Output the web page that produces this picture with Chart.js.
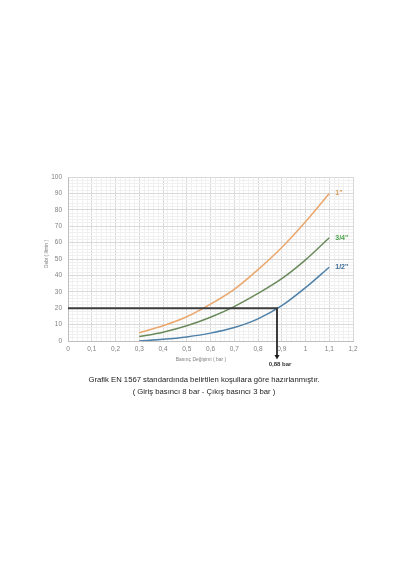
<!DOCTYPE html>
<html><head><meta charset="utf-8">
<script src="https://cdn.jsdelivr.net/npm/chart.js@4"></script>
<style>html,body{margin:0;padding:0;background:#fff}#wrap{width:400px;height:570px;position:relative}</style>
</head><body><div id="wrap"><canvas id="c" width="400" height="570"></canvas></div>
<script>
const pressure = [0.3, 0.4, 0.5, 0.6, 0.7, 0.8, 0.9, 1.0, 1.1];
const flow1 = [5, 9.3, 14.8, 22.5, 31.5, 43.5, 57, 72.7, 90];
const flow34 = [2.7, 5.4, 9.3, 14.5, 21, 29, 38, 49.5, 63];
const flow12 = [0, 1, 2.5, 4.8, 8.2, 13.5, 21.5, 32.5, 45];
const seriesNames = ['1"', '3/4"', '1/2"'];
const refPressure = 0.88;
const refFlow = 20;
const refLabel = '0,88 bar';
const xTitle = 'Basınç Değişimi ( bar )';
const yTitle = 'Debi ( l/min )';
const caption1 = 'Grafik EN 1567 standardında belirtilen koşullara göre hazırlanmıştır.';
const caption2 = '( Giriş basıncı 8 bar - Çıkış basıncı 3 bar )';

const lineColors = ['#EBA66C', '#6A8A5C', '#4F80A8'];
const labelColors = ['#E39C58', '#4EA34E', '#3E6C94'];
const FONT = '"Liberation Sans", Arial, sans-serif';

const series = [flow1, flow34, flow12];
const datasets = series.map((vals, i) => ({
  label: seriesNames[i],
  data: pressure.map((p, j) => ({x: p, y: vals[j]})),
  borderColor: lineColors[i],
  borderWidth: 1.5,
  pointRadius: 0,
  cubicInterpolationMode: 'monotone',
  fill: false
}));

const annot = {
  id: 'annot',
  afterDatasetsDraw(chart) {
    const {ctx, scales: {x, y}, chartArea} = chart;
    ctx.save();
    const px = x.getPixelForValue(refPressure), py = y.getPixelForValue(refFlow);
    ctx.strokeStyle = '#3c3c3c';
    ctx.lineWidth = 2;
    ctx.beginPath();
    ctx.moveTo(x.getPixelForValue(0), py);
    ctx.lineTo(px, py);
    ctx.lineTo(px, chartArea.bottom + 14);
    ctx.stroke();
    ctx.fillStyle = '#1a1a1a';
    ctx.beginPath();
    ctx.moveTo(px - 2.5, chartArea.bottom + 14);
    ctx.lineTo(px + 2.5, chartArea.bottom + 14);
    ctx.lineTo(px, chartArea.bottom + 18.5);
    ctx.closePath();
    ctx.fill();
    ctx.font = 'bold 6px ' + FONT;
    ctx.fillStyle = '#333';
    ctx.textAlign = 'center';
    ctx.textBaseline = 'middle';
    ctx.fillText(refLabel, px + 3, chartArea.bottom + 23.5);
    ctx.font = 'bold 7px ' + FONT;
    ctx.textAlign = 'left';
    chart.data.datasets.forEach((ds, i) => {
      const meta = chart.getDatasetMeta(i);
      const last = meta.data[meta.data.length - 1];
      ctx.fillStyle = labelColors[i];
      ctx.fillText(ds.label, last.x + 6, last.y);
    });
    ctx.fillStyle = '#7f7f7f';
    ctx.font = '5px ' + FONT;
    ctx.textAlign = 'center';
    ctx.fillText(xTitle, 201, chartArea.bottom + 18.5);
    ctx.save();
    ctx.translate(47, 254);
    ctx.rotate(-Math.PI / 2);
    ctx.fillText(yTitle, 0, 0);
    ctx.restore();
    ctx.fillStyle = '#222';
    ctx.font = '7.7px ' + FONT;
    ctx.fillText(caption1, 204, 379.5);
    ctx.fillText(caption2, 204, 391.5);
    ctx.restore();
  }
};

const isMajor = (v, step) => Math.abs(v / step - Math.round(v / step)) < 1e-6;

new Chart(document.getElementById('c'), {
  type: 'line',
  data: {datasets},
  options: {
    responsive: false,
    animation: false,
    events: [],
    layout: {padding: {left: 0, right: 47, top: 177, bottom: 209}},
    plugins: {legend: {display: false}, tooltip: {enabled: false}},
    scales: {
      x: {
        type: 'linear', min: 0, max: 1.2,
        afterFit(s) { s.height = 20; },
        ticks: {
          stepSize: 0.02, maxTicksLimit: 100, autoSkip: false, maxRotation: 0, padding: 4.5,
          color: '#808080', font: {family: FONT, size: 6.5},
          callback: v => isMajor(v, 0.1) ? String(Math.round(v * 10) / 10).replace('.', ',') : ''
        },
        grid: {
          drawTicks: false,
          color: c => isMajor(c.tick.value, 0.1) ? '#d9d9d9' : '#f0f0f0',
          lineWidth: 1
        },
        border: {color: '#bfbfbf'}
      },
      y: {
        min: 0, max: 100,
        afterFit(s) { s.width = 68; },
        ticks: {
          stepSize: 2, maxTicksLimit: 100, autoSkip: false, padding: 6,
          color: '#808080', font: {family: FONT, size: 6.5},
          callback: v => isMajor(v, 10) ? String(v) : ''
        },
        grid: {
          drawTicks: false,
          color: c => isMajor(c.tick.value, 10) ? '#d9d9d9' : '#f0f0f0',
          lineWidth: 1
        },
        border: {color: '#bfbfbf'}
      }
    }
  },
  plugins: [annot]
});
</script>
</body></html>
